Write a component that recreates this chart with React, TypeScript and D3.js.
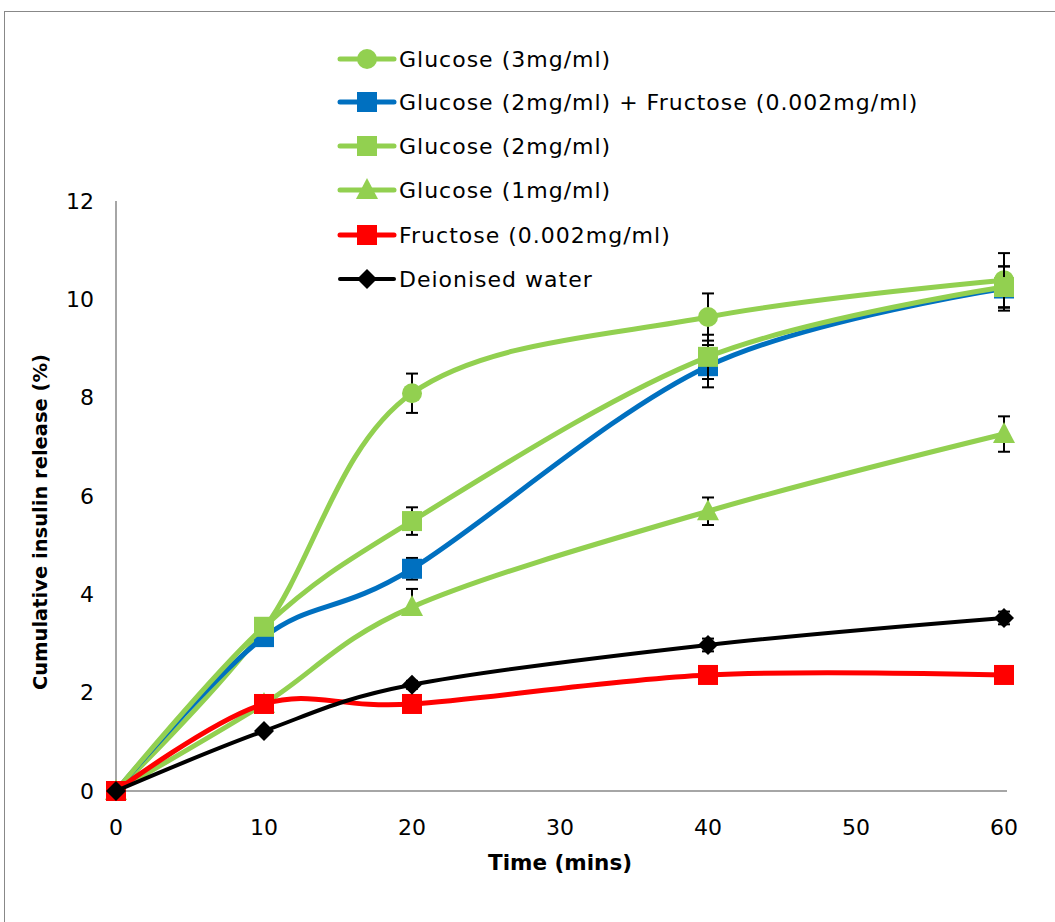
import React from "react";
import * as d3 from "d3";

const times = [0, 10, 20, 40, 60];
const xTicks = [0, 10, 20, 30, 40, 50, 60];
const yTicks = [0, 2, 4, 6, 8, 10, 12];

const glucose3 = [0, 3.3, 8.09, 9.64, 10.39];
const glucose3ErrUp = [0, 0, 0.4, 0.48, 0.55];
const glucose3ErrDown = [0, 0, 0.4, 0.48, 0.55];
const gluFru = [0, 3.13, 4.52, 8.64, 10.22];
const gluFruErrUp = [0, 0, 0.22, 0.43, 0.45];
const gluFruErrDown = [0, 0, 0.22, 0.43, 0.45];
const glucose2 = [0, 3.34, 5.49, 8.83, 10.25];
const glucose2ErrUp = [0, 0, 0.28, 0.45, 0.42];
const glucose2ErrDown = [0, 0, 0.28, 0.45, 0.42];
const glucose1 = [0, 1.77, 3.74, 5.69, 7.26];
const glucose1ErrUp = [0, 0, 0.37, 0.28, 0.36];
const glucose1ErrDown = [0, 0, 0.12, 0.28, 0.36];
const fructose = [0, 1.77, 1.77, 2.36, 2.36];
const fructoseErrUp = [0, 0, 0, 0.05, 0.05];
const fructoseErrDown = [0, 0, 0, 0.05, 0.05];
const water = [0, 1.22, 2.16, 2.97, 3.52];
const waterErrUp = [0, 0, 0.08, 0.13, 0.13];
const waterErrDown = [0, 0, 0.08, 0.13, 0.13];

const seriesNames = [
  "Glucose (3mg/ml)",
  "Glucose (2mg/ml) + Fructose (0.002mg/ml)",
  "Glucose (2mg/ml)",
  "Glucose (1mg/ml)",
  "Fructose (0.002mg/ml)",
  "Deionised water",
];

type Marker = "circle" | "square" | "triangle" | "diamond";
const series = [
  { name: seriesNames[0], values: glucose3, up: glucose3ErrUp, down: glucose3ErrDown, color: "#92D050", marker: "circle" as Marker, width: 5 },
  { name: seriesNames[1], values: gluFru, up: gluFruErrUp, down: gluFruErrDown, color: "#0070C0", marker: "square" as Marker, width: 5 },
  { name: seriesNames[2], values: glucose2, up: glucose2ErrUp, down: glucose2ErrDown, color: "#92D050", marker: "square" as Marker, width: 5 },
  { name: seriesNames[3], values: glucose1, up: glucose1ErrUp, down: glucose1ErrDown, color: "#92D050", marker: "triangle" as Marker, width: 5 },
  { name: seriesNames[4], values: fructose, up: fructoseErrUp, down: fructoseErrDown, color: "#FF0000", marker: "square" as Marker, width: 5 },
  { name: seriesNames[5], values: water, up: waterErrUp, down: waterErrDown, color: "#000000", marker: "diamond" as Marker, width: 4 },
];

function MarkerShape({ kind, x, y, color }: { kind: Marker; x: number; y: number; color: string }) {
  if (kind === "circle") return <circle cx={x} cy={y} r={10} fill={color} />;
  if (kind === "square") return <rect x={x - 10} y={y - 10} width={20} height={20} fill={color} />;
  if (kind === "triangle")
    return <path d={`M${x},${y - 12} L${x + 11},${y + 9} L${x - 11},${y + 9} Z`} fill={color} />;
  return <path d={`M${x},${y - 10} L${x + 10},${y} L${x},${y + 10} L${x - 10},${y} Z`} fill={color} />;
}

export default function App() {
  const W = 1055, H = 922;
  const x = d3.scaleLinear().domain([0, 60]).range([116, 1004]);
  const y = d3.scaleLinear().domain([0, 12]).range([791, 201]);
  const line = d3
    .line<number>()
    .x((_, i) => x(times[i]))
    .y((d) => y(d))
    .curve(d3.curveCardinal.tension(0));
  const font = "'DejaVu Sans', sans-serif";
  const legendY = [59, 102, 146, 190, 235, 279];

  return (
    <svg width={W} height={H} style={{ position: "absolute", left: 0, top: 0, background: "#fff" }}>
      <rect x={4.5} y={11.5} width={1100} height={1000} fill="#fff" stroke="#888" strokeWidth={1} />
      <line x1={x(0)} x2={x(0)} y1={y(12)} y2={y(0)} stroke="#a6a6a6" strokeWidth={2} />
      <line x1={x(0)} x2={1007} y1={y(0)} y2={y(0)} stroke="#a6a6a6" strokeWidth={2} />
      {yTicks.map((t) => (
        <text key={"y" + t} x={94} y={y(t)} dy="0.35em" textAnchor="end" fontFamily={font} fontSize={22} fill="#000">
          {t}
        </text>
      ))}
      {xTicks.map((t) => (
        <text key={"x" + t} x={x(t)} y={827} dy="0.35em" textAnchor="middle" fontFamily={font} fontSize={22} fill="#000">
          {t}
        </text>
      ))}
      <text x={560} y={862} dy="0.35em" textAnchor="middle" fontFamily={font} fontWeight="bold" fontSize={21.5} fill="#000">
        Time (mins)
      </text>
      <text
        transform={`translate(40,522) rotate(-90)`}
        dy="0.35em"
        textAnchor="middle"
        fontFamily={font}
        fontWeight="bold"
        fontSize={19.5}
        fill="#000"
      >
        Cumulative insulin release (%)
      </text>
      {series.map((s) => (
        <g key={s.name}>
          {s.values.map((v, i) => {
            const cx = x(times[i]);
            return (
              <g key={i} stroke="#000" strokeWidth={2}>
                {s.up[i] > 0 ? (
                  <>
                    <line x1={cx} x2={cx} y1={y(v)} y2={y(v + s.up[i])} />
                    <line x1={cx - 6} x2={cx + 6} y1={y(v + s.up[i])} y2={y(v + s.up[i])} />
                  </>
                ) : null}
                {s.down[i] > 0 ? (
                  <>
                    <line x1={cx} x2={cx} y1={y(v)} y2={y(v - s.down[i])} />
                    <line x1={cx - 6} x2={cx + 6} y1={y(v - s.down[i])} y2={y(v - s.down[i])} />
                  </>
                ) : null}
              </g>
            );
          })}
          <path d={line(s.values) || ""} fill="none" stroke={s.color} strokeWidth={s.width} strokeLinecap="round" />
          {s.values.map((v, i) => (
            <MarkerShape key={i} kind={s.marker} x={x(times[i])} y={y(v)} color={s.color} />
          ))}
        </g>
      ))}
      {series.map((s, i) => (
        <g key={"leg" + i}>
          <line x1={340} x2={394} y1={legendY[i]} y2={legendY[i]} stroke={s.color} strokeWidth={s.width} strokeLinecap="round" />
          <MarkerShape kind={s.marker} x={367} y={legendY[i]} color={s.color} />
          <text x={399} y={legendY[i]} dy="0.35em" fontFamily={font} fontSize={22} letterSpacing={1} fill="#000">
            {s.name}
          </text>
        </g>
      ))}
    </svg>
  );
}
